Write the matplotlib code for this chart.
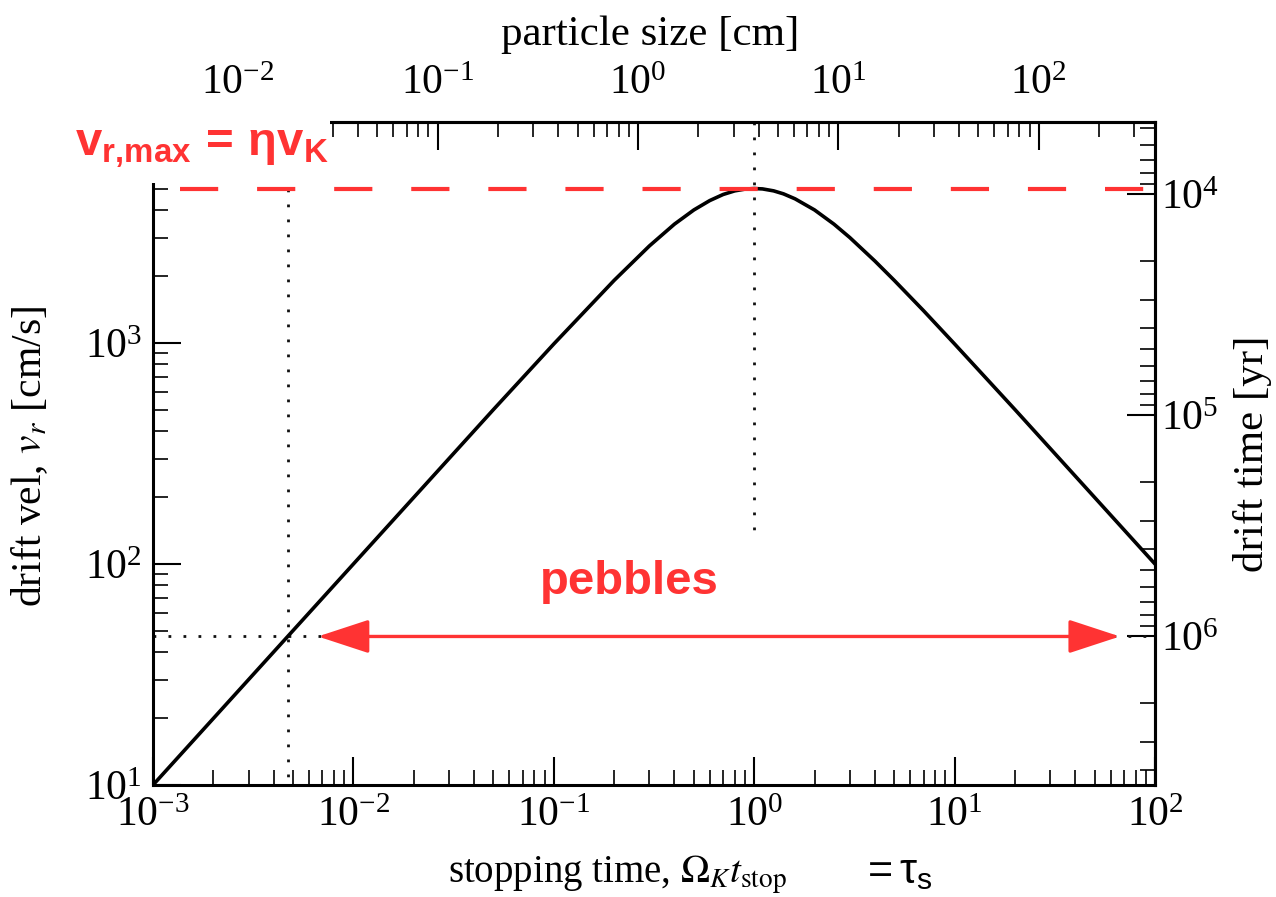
import matplotlib
matplotlib.use('Agg')
import matplotlib.pyplot as plt
from matplotlib.patches import FancyArrowPatch, Rectangle

# radial drift speed vs. dimensionless stopping time
tau_pts = [1e-3, 2e-3, 5e-3, 1e-2, 2e-2, 5e-2, 0.1, 0.2, 0.3, 0.4, 0.5, 0.6,
           0.7, 0.8, 0.9, 1.0, 1.1, 1.25, 1.4, 1.6, 2.0, 2.5, 3.0, 4.0, 5.0,
           7.0, 10.0, 20.0, 50.0, 100.0]
vr_pts = [10, 20, 50, 100, 200, 500, 990, 1920, 2750, 3450, 4000, 4410,
          4700, 4880, 4970, 5000, 4980, 4880, 4730, 4490, 4000, 3450, 3000,
          2350, 1920, 1400, 990, 500, 200, 100]

vr_max = 5000.0      # eta * v_K [cm/s]
tau_peak = 1.0
tau_peb = 4.7e-3     # smallest pebble
vr_peb = 47.0        # drift speed giving ~1 Myr drift time
arrow_tau = (6.65e-3, 66.8)
size_per_tau = 3.8   # particle size [cm] per unit stopping time
drift_const = 4.7e7  # drift time [yr] * v_r [cm/s]

red = '#ff3333'
W, H = 1276, 897

plt.rcParams.update({
    'font.family': 'serif',
    'font.serif': ['Liberation Serif', 'DejaVu Serif'],
    'mathtext.fontset': 'stix',
    'mathtext.rm': 'Liberation Sans',
    'mathtext.it': 'Liberation Sans',
    'mathtext.bf': 'Liberation Sans:bold',
    'lines.scale_dashes': False,
})

fig = plt.figure(figsize=(W / 100, H / 100), dpi=100)
ax = fig.add_axes([153 / W, 1 - 785 / H, 1002 / W, 663 / H])
ax.set_xscale('log')
ax.set_yscale('log')
ax.set_xlim(1e-3, 1e2)
ax.set_ylim(10, 1e4)

ax.plot(tau_pts, vr_pts, color='k', lw=2.6, zorder=3)

dotted = dict(color='#111111', lw=2.0, linestyle=(0, (2.0, 8.8)), zorder=2)
ax.plot([tau_peak, tau_peak], [1e4, 138], **dotted)
ax.plot([tau_peb, tau_peb], [vr_max, 10], **dotted)
ax.plot([1e-3, 1e2], [vr_peb, vr_peb], **dotted)

ax.plot([1.36e-3, 1e2], [vr_max, vr_max], color=red, lw=3.0,
        linestyle=(0, (27.5, 28.0)), zorder=4)

arrow = FancyArrowPatch((arrow_tau[0], vr_peb), (arrow_tau[1], vr_peb),
                        arrowstyle='<|-|>,head_length=3.2,head_width=1.05',
                        mutation_scale=10, lw=2.4, color=red,
                        shrinkA=0, shrinkB=0, zorder=5)
ax.add_patch(arrow)

ax.text(0.237, 73.3, 'pebbles', color=red, fontsize=34,
        fontweight='bold', family='Liberation Sans', ha='center', va='baseline')

ax.tick_params(which='both', direction='in', labelsize=30, pad=8)
ax.tick_params(which='major', length=20, width=1.5)
ax.tick_params(which='minor', length=11, width=1.2)
for s in ax.spines.values():
    s.set_linewidth(2.2)

top = ax.secondary_xaxis('top', functions=(lambda t: t * size_per_tau,
                                           lambda s: s / size_per_tau))
top.tick_params(which='both', direction='in', labelsize=30, pad=14)
top.tick_params(which='major', length=20, width=1.5)
top.tick_params(which='minor', length=11, width=1.2)
top.spines['top'].set_linewidth(2.2)

right = ax.secondary_yaxis('right', functions=(lambda v: drift_const / v,
                                               lambda t: drift_const / t))
right.tick_params(which='both', direction='in', labelsize=30, pad=4)
right.tick_params(which='major', length=20, width=1.5)
right.tick_params(which='minor', length=11, width=1.2)
right.spines['right'].set_linewidth(2.2)

# axis titles
fig.text(650 / W, 1 - 35 / H, 'particle size [cm]', fontsize=31,
         ha='center', va='center')
fig.text(30 / W, 1 - 456 / H, r'drift vel, $v_r$ [cm/s]', fontsize=30,
         rotation=90, ha='center', va='center')
fig.text(1252 / W, 1 - 454 / H, 'drift time [yr]', fontsize=31,
         rotation=90, ha='center', va='center')
fig.text(448 / W, 1 - 883 / H, r'stopping time, $\Omega_K t_\mathrm{stop}$',
         fontsize=28, ha='left', va='baseline')
fig.text(860 / W, 1 - 883 / H, r'$= \tau_\mathrm{s}$', fontsize=31,
         math_fontfamily='custom', ha='left', va='baseline')

# label for the maximum drift speed, on a white patch
fig.add_artist(Rectangle((60 / W, 1 - 183 / H), 270 / W, 80 / H,
                         transform=fig.transFigure, facecolor='white',
                         edgecolor='none', zorder=10))
fig.text(75 / W, 1 - 155 / H, r'$\mathbf{v_{r{,}max}\,=\,\eta v_K}$',
         fontsize=34, color=red, math_fontfamily='custom',
         ha='left', va='baseline', zorder=11)

fig.savefig('out.png', dpi=100)
